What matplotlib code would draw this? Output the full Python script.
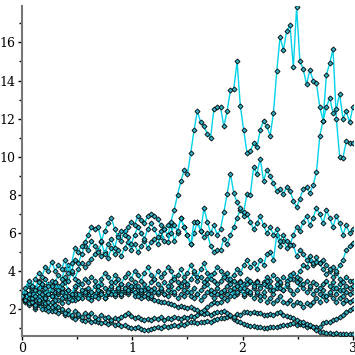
import numpy as np
import matplotlib
matplotlib.use("Agg")
import matplotlib.pyplot as plt

# time grid: 101 samples from 0 to 3 (step 0.03)
t = [round(0.03 * i, 2) for i in range(101)]

path_a = [2.7, 3.1, 3.5, 3.2, 3.6, 3.9, 3.7, 4.2, 4.0, 4.5,
          4.0, 4.3, 4.1, 4.6, 3.9, 4.4, 5.2, 5.0, 5.3, 5.5,
          5.9, 6.3, 6.2, 6.3, 5.6, 6.1, 6.5, 6.8, 6.2, 5.8,
          6.1, 5.9, 6.3, 6.6, 6.4, 6.9, 6.7, 6.5, 6.9, 7.0,
          6.9, 6.75, 6.4, 6.2, 6.4, 6.6, 7.2, 8.0, 8.7, 9.3,
          9.1, 10.2, 11.4, 12.4, 11.8, 11.6, 11.2, 11.0, 12.5, 12.6,
          12.6, 11.6, 12.4, 13.5, 13.55, 15.0, 12.65, 11.4, 10.2, 10.3,
          10.7, 10.5, 11.4, 11.9, 11.6, 11.1, 12.3, 14.5, 16.3, 15.6,
          16.6, 16.9, 14.7, 17.85, 15.0, 14.6, 13.8, 14.55, 14.0, 13.85,
          12.6, 11.9, 12.6, 13.1, 12.3, 12.5, 13.3, 12.0, 12.4, 11.8,
          12.6]

path_b = [2.7, 2.9, 3.3, 3.1, 3.0, 3.4, 3.3, 3.6, 3.2, 3.5,
          3.4, 3.8, 3.6, 4.1, 4.3, 4.0, 4.6, 4.4, 4.9, 5.3,
          5.1, 5.6, 5.3, 5.0, 5.5, 4.9, 5.4, 5.7, 5.2, 5.9,
          5.6, 6.1, 5.8, 5.4, 5.9, 6.3, 6.0, 5.7, 6.2, 6.5,
          6.2, 5.8, 6.1, 5.6, 5.5, 6.0, 6.4, 6.1, 6.8, 6.3,
          5.9, 5.4, 6.6, 6.6, 6.1, 7.3, 6.6, 6.0, 6.4, 5.9,
          6.2, 7.1, 8.05, 9.1, 8.1, 7.6, 7.3, 7.1, 8.05, 8.0,
          9.45, 9.1, 9.9, 8.75, 9.3, 9.0, 8.6, 8.2, 8.3, 8.05,
          8.4, 8.2, 7.7, 7.35, 7.8, 8.3, 8.4, 8.1, 8.5, 9.2,
          11.1, 11.9, 14.3, 14.9, 15.65, 12.0, 10.0, 9.95, 10.8, 10.7,
          10.7]

path_c = [2.7, 2.5, 2.8, 3.0, 2.7, 2.9, 3.3, 3.1, 2.8, 3.2,
          3.4, 3.0, 3.3, 3.7, 3.5, 3.9, 3.6, 4.1, 4.4, 4.2,
          4.4, 4.65, 4.9, 5.1, 4.8, 5.0, 4.7, 5.2, 4.9, 5.1,
          4.8, 5.2, 5.5, 5.1, 5.4, 5.0, 5.3, 5.6, 5.2, 5.5,
          5.7, 5.4, 5.8, 6.2, 5.9, 6.4, 5.6, 6.0, 6.8, 6.3,
          5.9, 5.4, 6.0, 6.6, 6.1, 5.8, 6.0, 5.3, 5.0, 5.1,
          5.1, 5.7, 5.4, 5.9, 6.3, 6.8, 7.2, 6.9, 7.0, 6.6,
          6.2, 6.5, 6.9, 6.4, 6.0, 6.3, 5.9, 6.2, 5.6, 5.9,
          5.6, 5.35, 5.9, 6.3, 6.1, 6.6, 6.9, 6.4, 6.8, 7.3,
          7.0, 6.5, 7.2, 6.8, 6.3, 6.9, 6.5, 5.9, 6.4, 6.0,
          6.2]

path_e = [2.7, 2.9, 3.2, 2.8, 3.1, 3.5, 3.2, 2.9, 3.3, 3.0,
          3.2, 2.9, 3.1, 3.4, 3.0, 2.8, 3.2, 3.5, 3.3, 3.6,
          3.4, 3.7, 3.5, 3.2, 3.6, 3.9, 3.7, 3.4, 3.8, 3.6,
          3.3, 3.7, 3.9, 3.6, 4.0, 3.8, 3.5, 3.9, 4.2, 3.8,
          3.6, 4.0, 3.7, 3.9, 4.2, 4.0, 3.6, 3.8, 4.1, 3.7,
          3.9, 4.3, 4.0, 3.7, 4.1, 4.4, 3.9, 3.6, 3.9, 4.2,
          4.0, 3.7, 3.9, 3.6, 3.8, 4.1, 3.9, 4.3, 4.6, 4.2,
          4.4, 4.1, 4.6, 4.3, 4.9, 5.0, 4.6, 5.9, 5.3, 5.6,
          5.2, 5.4, 5.35, 4.8, 5.1, 4.9, 4.6, 4.8, 4.4, 4.5,
          4.4, 4.6, 4.3, 4.1, 4.2, 4.0, 4.3, 4.6, 5.1, 5.3,
          5.45]

path_f = [2.7, 2.5, 2.8, 2.6, 2.9, 3.1, 2.8, 2.6, 2.9, 2.7,
          2.9, 3.2, 2.9, 2.7, 3.0, 2.8, 3.1, 3.3, 3.0, 2.9,
          3.1, 2.9, 3.2, 3.0, 3.3, 3.1, 2.9, 3.2, 3.4, 3.1,
          3.3, 3.1, 3.0, 3.2, 3.4, 3.2, 3.0, 3.3, 3.1, 3.4,
          3.6, 3.3, 3.1, 3.4, 3.2, 3.5, 3.7, 3.4, 3.2, 3.5,
          3.3, 3.6, 3.9, 3.5, 3.7, 3.4, 3.6, 3.8, 3.5, 3.3,
          3.5, 3.8, 3.6, 3.3, 3.5, 3.2, 3.4, 3.1, 3.3, 3.5,
          3.2, 3.4, 3.1, 3.3, 3.5, 3.2, 3.0, 3.3, 3.1, 3.0,
          3.3, 3.6, 3.9, 3.7, 4.0, 4.3, 4.2, 4.56, 4.3, 4.74,
          4.4, 4.1, 3.87, 4.0, 3.7, 3.9, 3.6, 3.4, 3.7, 3.5,
          3.5]

path_g = [2.7, 2.9, 2.6, 2.4, 2.7, 2.5, 2.8, 2.6, 2.4, 2.7,
          2.5, 2.8, 2.6, 2.9, 2.7, 2.5, 2.8, 2.6, 2.9, 2.8,
          2.6, 2.9, 2.7, 3.0, 2.8, 2.6, 2.9, 3.1, 2.8, 3.0,
          2.8, 3.0, 2.9, 3.1, 2.9, 2.7, 2.9, 3.0, 2.8, 3.0,
          3.1, 2.9, 3.0, 2.8, 3.0, 3.2, 2.9, 3.1, 3.3, 3.0,
          3.2, 2.9, 3.1, 2.8, 3.0, 3.2, 3.3, 3.0, 2.9, 3.1,
          2.9, 3.0, 3.2, 3.4, 3.1, 3.3, 3.5, 3.3, 3.6, 3.4,
          3.3, 3.5, 3.2, 3.4, 3.7, 3.5, 3.8, 3.6, 3.4, 3.7,
          3.5, 3.8, 3.6, 3.4, 3.6, 3.3, 3.5, 3.2, 3.4, 3.3,
          3.1, 3.3, 3.5, 3.2, 3.4, 3.1, 3.3, 3.0, 3.2, 3.1,
          3.2]

path_h2 = [2.7, 2.5, 2.3, 2.5, 2.2, 2.4, 2.6, 2.3, 2.1, 2.4,
           2.2, 2.5, 2.3, 2.6, 2.4, 2.7, 2.5, 2.8, 2.6, 2.9,
           2.7, 2.5, 2.8, 2.6, 2.9, 2.7, 3.0, 2.8, 2.9, 3.1,
           2.9, 3.1, 3.3, 3.0, 3.2, 3.0, 2.8, 3.1, 2.9, 2.7,
           2.9, 2.8, 3.0, 2.8, 2.7, 2.9, 2.8, 2.6, 2.8, 2.7,
           2.9, 2.7, 2.6, 2.8, 2.5, 2.7, 2.9, 2.8, 2.6, 2.8,
           2.7, 2.9, 2.8, 3.0, 2.7, 2.9, 3.1, 2.8, 3.0, 2.9,
           3.1, 2.9, 2.7, 2.9, 3.2, 3.0, 2.8, 3.1, 3.3, 3.0,
           3.2, 3.0, 2.8, 3.0, 3.3, 3.1, 2.9, 3.1, 2.8, 3.0,
           2.8, 3.0, 2.7, 2.9, 3.1, 2.8, 3.0, 2.7, 2.9, 2.8,
           2.9]

path_h = [2.7, 2.9, 2.6, 2.8, 2.5, 2.7, 2.9, 2.6, 2.8, 3.0,
          2.7, 2.9, 3.1, 2.8, 3.0, 2.7, 2.9, 2.6, 2.8, 3.0,
          2.8, 2.6, 2.8, 2.7, 2.9, 2.6, 2.8, 3.0, 2.7, 2.9,
          2.7, 2.9, 2.8, 3.0, 2.7, 2.8, 2.6, 2.7, 2.56, 2.6,
          2.5, 2.45, 2.38, 2.4, 2.3, 2.25, 2.2, 2.12, 2.15, 2.1,
          2.05, 2.1, 2.0, 1.95, 1.86, 1.95, 2.1, 2.25, 2.38, 2.3,
          2.4, 2.6, 2.5, 2.7, 2.9, 2.8, 3.0, 2.7, 2.9, 2.8,
          2.6, 2.8, 2.5, 2.7, 2.4, 2.6, 2.3, 2.5, 2.7, 2.4,
          2.3, 2.5, 2.2, 2.4, 2.3, 2.1, 2.3, 2.2, 2.4, 2.6,
          2.4, 2.7, 2.5, 2.8, 2.6, 2.4, 2.6, 2.3, 2.5, 2.4,
          2.5]

path_l1 = [2.7, 2.5, 2.6, 2.3, 2.1, 2.3, 2.0, 2.2, 1.9, 2.1,
           1.9, 2.1, 2.0, 1.8, 1.95, 1.7, 1.9, 1.75, 1.6, 1.8,
           1.65, 1.8, 1.6, 1.5, 1.7, 1.55, 1.6, 1.45, 1.55, 1.5,
           1.6, 1.7, 1.78, 1.65, 1.55, 1.6, 1.5, 1.42, 1.5, 1.45,
           1.55, 1.5, 1.6, 1.45, 1.55, 1.5, 1.6, 1.55, 1.5, 1.6,
           1.55, 1.65, 1.6, 1.7, 1.78, 1.75, 1.8, 1.7, 1.8, 1.86,
           1.86, 1.9, 1.8, 1.7, 1.6, 1.75, 1.7, 1.85, 1.86, 1.8,
           1.86, 1.8, 1.78, 1.7, 1.69, 1.75, 1.69, 1.8, 1.86, 1.7,
           1.65, 1.6, 1.51, 1.45, 1.34, 1.3, 1.2, 1.16, 1.05, 0.9,
           0.81, 0.78, 0.76, 0.74, 0.72, 0.73, 0.71, 0.7, 0.72, 0.7,
           0.7]

path_l2 = [2.7, 2.4, 2.2, 2.4, 2.0, 2.2, 2.3, 2.0, 2.1, 1.9,
           2.0, 1.8, 1.9, 1.7, 1.75, 1.6, 1.5, 1.65, 1.45, 1.4,
           1.5, 1.35, 1.4, 1.3, 1.25, 1.35, 1.2, 1.3, 1.15, 1.2,
           1.1, 1.16, 1.05, 1.0, 0.99, 1.05, 0.95, 0.92, 0.9, 0.95,
           1.0, 1.07, 1.02, 1.1, 1.05, 1.12, 1.16, 1.1, 1.2, 1.15,
           1.25, 1.3, 1.34, 1.28, 1.3, 1.34, 1.4, 1.34, 1.45, 1.5,
           1.51, 1.55, 1.6, 1.63, 1.5, 1.39, 1.3, 1.2, 1.16, 1.12,
           1.1, 1.07, 1.05, 0.99, 1.02, 1.07, 1.05, 1.07, 1.1, 1.16,
           1.16, 1.2, 1.25, 1.16, 1.2, 1.16, 1.07, 1.1, 1.07, 1.05,
           1.07, 1.25, 1.3, 1.34, 1.42, 1.5, 1.57, 1.69, 1.86, 1.95,
           2.05]

paths = [path_l2, path_l1, path_h, path_h2, path_g, path_f,
         path_e, path_c, path_b, path_a]

x_ticks = [0, 1, 2, 3]
y_ticks = [2, 4, 6, 8, 10, 12, 14, 16]

fig = plt.figure(figsize=(3.55, 3.55), dpi=100)
ax = fig.add_axes([0.062, 0.0535, 0.932, 0.929])

for p in paths:
    ax.plot(t, p, color="#00d2ea", linewidth=1.0,
            marker="D", markersize=2.6, markerfacecolor="#30b0c4",
            markeredgecolor="black", markeredgewidth=0.6, zorder=3)

ax.set_xlim(0, 3)
ax.set_ylim(0.59, 17.9)

for s in ["top", "right"]:
    ax.spines[s].set_visible(False)
for s in ["left", "bottom"]:
    ax.spines[s].set_color("#777777")
    ax.spines[s].set_linewidth(1.5)

ax.set_xticks(x_ticks)
ax.set_xticklabels([str(v) for v in x_ticks])
ax.set_yticks(y_ticks)
ax.set_yticklabels([str(v) for v in y_ticks])
ax.set_xticks([0.5, 1.5, 2.5], minor=True)
ax.set_yticks([1, 3, 5, 7, 9, 11, 13, 15, 17], minor=True)

ax.tick_params(axis="both", which="major", direction="out", length=3,
               width=1, color="black", labelsize=9, pad=1.5)
ax.tick_params(axis="both", which="minor", direction="out", length=2,
               width=1, color="black")
for lab in ax.get_xticklabels() + ax.get_yticklabels():
    lab.set_fontfamily("DejaVu Serif")

fig.savefig("out.png", dpi=100)
